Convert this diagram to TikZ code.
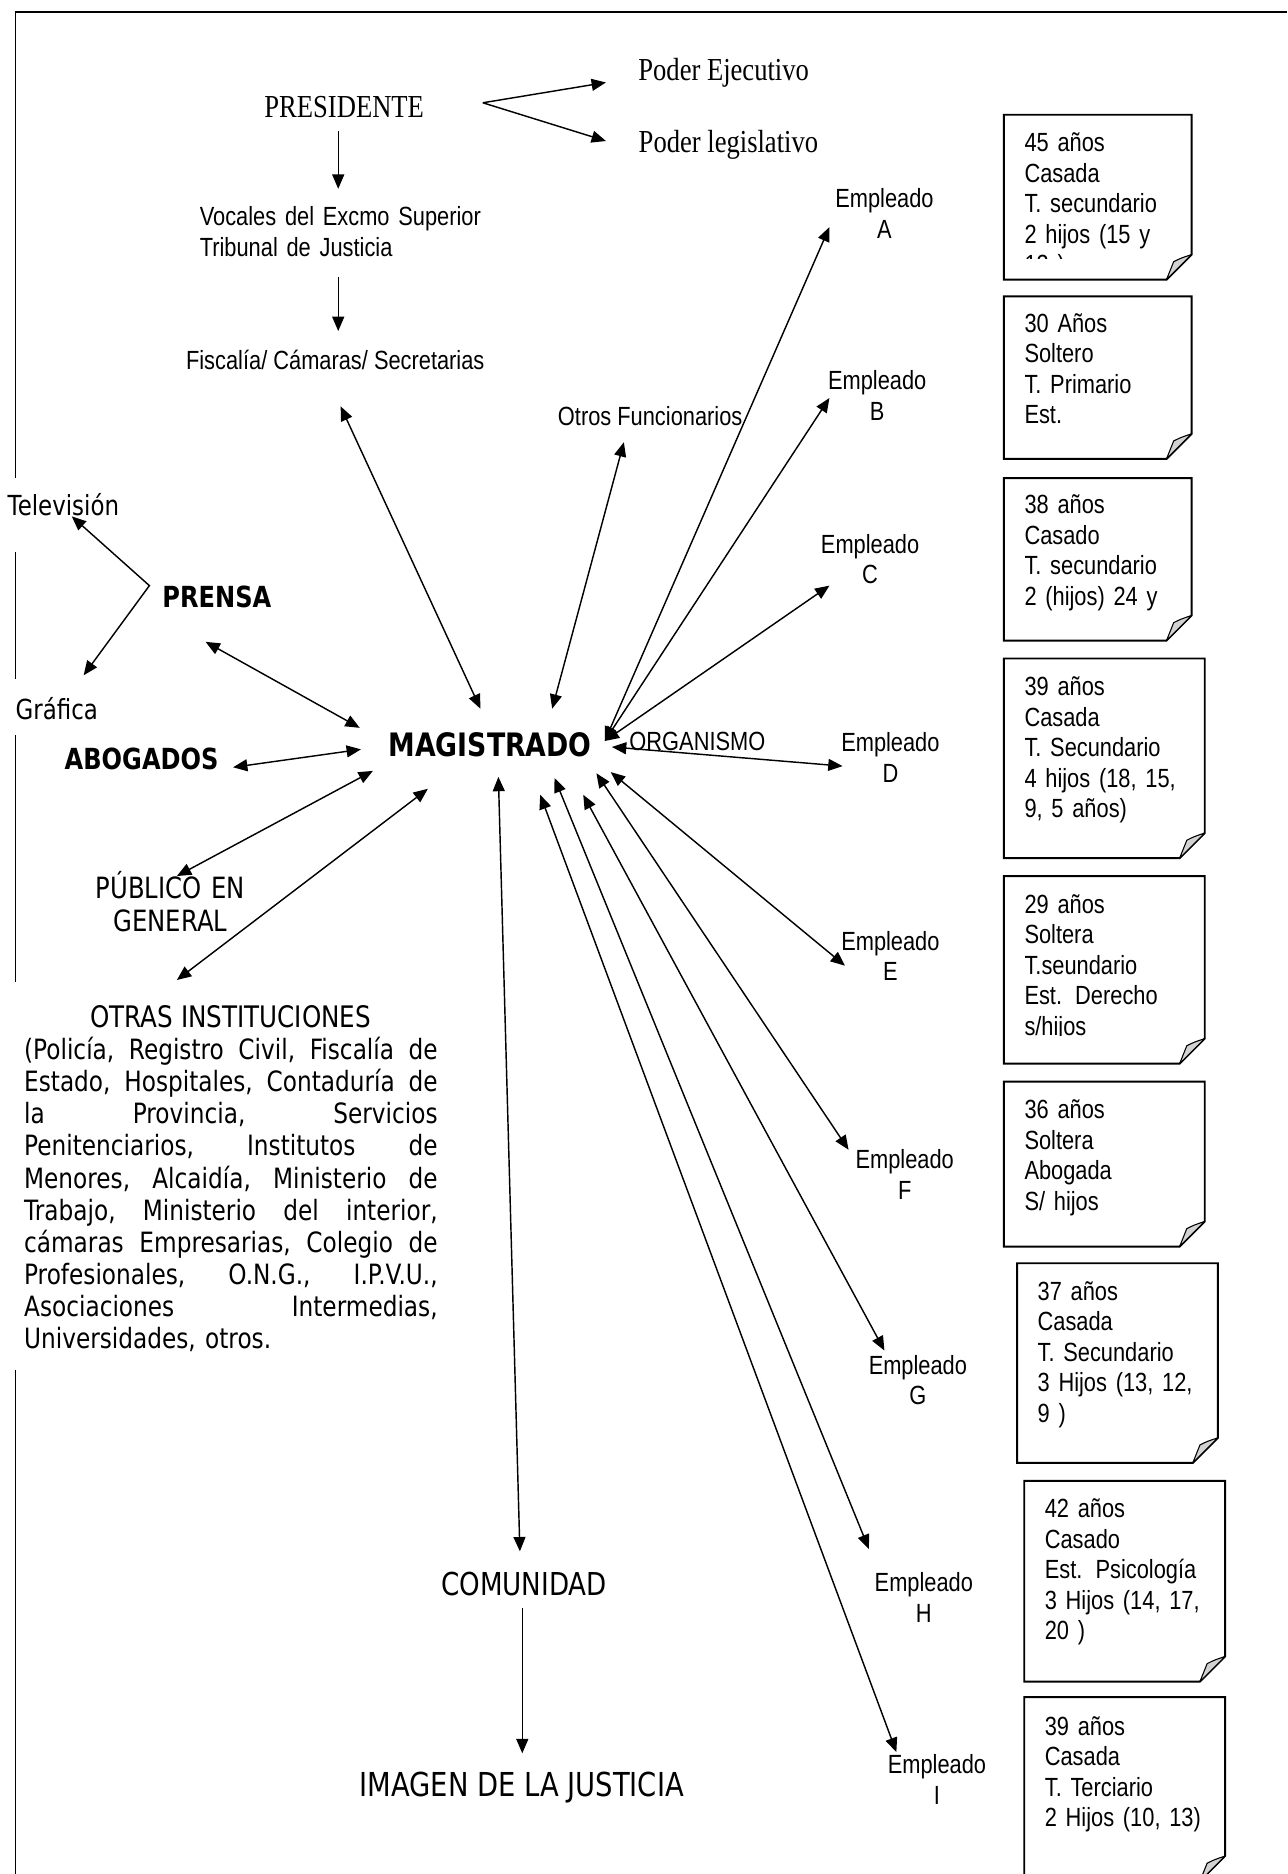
\documentclass[tikz,border=0pt]{standalone}
\usepackage{fontspec}
\usetikzlibrary{arrows.meta}
\newfontfamily\tms[FakeStretch=0.83]{Liberation Serif}
\newfontfamily\arl[FakeStretch=0.83]{Liberation Sans}
\newfontfamily\thm[FakeStretch=0.83]{DejaVu Sans}
\newcommand\nbox[5]{%
  \draw[line width=1.6pt,fill=white,line join=miter] (#1,#2) -- (#3,#2) -- (#3,#4-21) -- (#3-21,#4) -- (#1,#4) -- cycle;
  \filldraw[line width=0.9pt,fill=gray!35,line join=round] (#3-21,#4) -- (#3-15,#4-15) .. controls (#3-9,#4-18) .. (#3,#4-21) -- cycle;
  \coordinate (#5) at (#1,#2);
}
\newcommand\jline[1]{\leavevmode\hbox to 346pt{#1}}
\begin{document}
\begin{tikzpicture}[x=1pt,y=-1pt,
  tip/.tip={Triangle[length=12pt,width=10pt]},
  arr/.style={line width=1.2pt,-tip},
  darr/.style={line width=1.2pt,tip-tip},
  tm/.style={font=\tms\fontsize{26.8}{31}\selectfont,inner sep=0pt,anchor=base},
  ar/.style={font=\arl\fontsize{22}{25.5}\selectfont,inner sep=0pt,anchor=base},
  emp/.style={ar,text width=110pt,align=center},
  nt/.style={font=\arl\fontsize{22}{25.5}\selectfont,inner sep=0pt,anchor=base west,text width=150pt,align=left},
  vb/.style={font=\thm\bfseries\fontsize{#1}{#1}\selectfont,inner sep=0pt,anchor=base},
  vr/.style={font=\thm\fontsize{#1}{27}\selectfont,inner sep=0pt,anchor=base},
  frame/.style={line width=1.5pt}
]
\useasboundingbox (0,0) rectangle (1077,1568);
% frame
\draw[frame] (13,400) -- (13,10) -- (1077,10);
\draw[frame] (13,462) -- (13,568);
\draw[frame] (13,615) -- (13,822);
\draw[frame] (13,1146) -- (13,1568);

% top hierarchy
\node[tm] (pres) at (288,98) {PRESIDENTE};
\node[tm] (pe) at (605.5,67) {Poder Ejecutivo};
\node[tm] (pl) at (609.5,128) {Poder legislativo};
\node[ar,text width=260pt,align=left,anchor=base west] (voc) at (167,189) {Vocales del Excmo Superior\\Tribunal de Justicia};
\node[ar] (fis) at (280.5,309) {Fiscalía/ Cámaras/ Secretarias};
\node[ar] (otros) at (544,356) {Otros Funcionarios};

\coordinate (fork) at (404,86);
\coordinate (pe-in) at (507,69);
\coordinate (pl-in) at (507,118);
\draw[arr] (fork) -- (pe-in);
\draw[arr] (fork) -- (pl-in);
\coordinate (pres-out) at (283,110);
\coordinate (voc-in) at (283,158);
\coordinate (voc-out) at (283,232);
\coordinate (fis-in) at (283,277);
\draw[arr] (pres-out) -- (voc-in);
\draw[arr] (voc-out) -- (fis-in);

% center
\node[vb=27] (mag) at (410,633) {MAGISTRADO};
\node[ar] (org) at (583.5,628) {ORGANISMO};

% left side
\node[vb=24.3] (prensa) at (181.5,508) {PRENSA};
\node[vb=24.3] (abog) at (118.5,644) {ABOGADOS};
\node[vr=23.1] (tele) at (53,431) {Televisión};
\node[vr=23.1] (graf) at (47.5,602) {Gráfica};
\node[vr=24.5,text width=200pt,align=center] (pub) at (142.5,752) {PÚBLICO EN\\GENERAL};
\node[vr=24.8] (otras) at (193,860) {OTRAS INSTITUCIONES};
\node[font=\thm\fontsize{23.4}{26.9}\selectfont,inner sep=0pt,anchor=base west,text width=346pt,align=left] (para) at (20,886.5) {%
\jline{(Policía,\hfill Registro\hfill Civil,\hfill Fiscalía\hfill de}\\
\jline{Estado,\hfill Hospitales,\hfill Contaduría\hfill de}\\
\jline{la\hfill Provincia,\hfill Servicios}\\
\jline{Penitenciarios,\hfill Institutos\hfill de}\\
\jline{Menores,\hfill Alcaidía,\hfill Ministerio\hfill de}\\
\jline{Trabajo,\hfill Ministerio\hfill del\hfill interior,}\\
\jline{cámaras\hfill Empresarias,\hfill Colegio\hfill de}\\
\jline{Profesionales,\hfill O.N.G.,\hfill I.P.V.U.,}\\
\jline{Asociaciones\hfill Intermedias,}\\
Universidades, otros.};

\coordinate (pfork) at (125,490);
\coordinate (tele-in) at (60,432);
\coordinate (graf-in) at (70,565);
\draw[line width=1.2pt,tip-tip] (tele-in) -- (pfork) -- (graf-in);

% bottom
\node[vr=26.4] (com) at (438.5,1335) {COMUNIDAD};
\node[vr=27.6] (img) at (436.5,1503) {IMAGEN DE LA JUSTICIA};
\coordinate (com-out) at (437,1345);
\coordinate (img-in) at (437,1467);
\draw[arr] (com-out) -- (img-in);

% employees
\node[emp] (eA) at (740,174) {Empleado\\A};
\node[emp] (eB) at (734,326) {Empleado\\B};
\node[emp] (eC) at (728,463) {Empleado\\C};
\node[emp] (eD) at (745,629) {Empleado\\D};
\node[emp] (eE) at (745,795) {Empleado\\E};
\node[emp] (eF) at (757,978) {Empleado\\F};
\node[emp] (eG) at (768,1150) {Empleado\\G};
\node[emp] (eH) at (773,1332) {Empleado\\H};
\node[emp] (eI) at (784,1484) {Empleado\\I};

% connector end points at MAGISTRADO
\coordinate (m-fis) at (402,593);
\coordinate (m-otros) at (462,593);
\coordinate (m-hub) at (506,620);
\coordinate (m-D) at (512,625);
\coordinate (m-E) at (511,646);
\coordinate (m-F) at (499,647);
\coordinate (m-G) at (488,665);
\coordinate (m-H) at (464,651);
\coordinate (m-I) at (452,665);
\coordinate (m-com) at (417,650);
\coordinate (m-prensa) at (301,609);
\coordinate (m-abog) at (302,627);
\coordinate (m-pub) at (312,645);
\coordinate (m-otras) at (358,660);
% far ends
\coordinate (fis-out) at (285,340);
\coordinate (otros-out) at (522,370);
\coordinate (eA-in) at (694,190);
\coordinate (eB-in) at (694,333);
\coordinate (eC-in) at (694,490);
\coordinate (eD-in) at (705,641);
\coordinate (eE-in) at (707,808);
\coordinate (eF-in) at (710,962);
\coordinate (eG-in) at (740,1130);
\coordinate (eH-in) at (727,1296);
\coordinate (eI-in) at (750,1466);
\coordinate (com-in) at (435,1298);
\coordinate (prensa-out) at (172,537);
\coordinate (abog-out) at (195,642);
\coordinate (pub-out) at (148,733);
\coordinate (otras-out) at (148,820);

\draw[darr] (fis-out) -- (m-fis);
\draw[darr] (otros-out) -- (m-otros);
\draw[darr] (m-hub) -- (eA-in);
\draw[darr] (m-hub) -- (eB-in);
\draw[darr] (m-hub) -- (eC-in);
\draw[darr] (m-D) -- (eD-in);
\draw[darr] (m-E) -- (eE-in);
\draw[darr] (m-F) -- (eF-in);
\draw[darr] (m-G) -- (eG-in);
\draw[darr] (m-H) -- (eH-in);
\draw[darr] (m-I) -- (eI-in);
\draw[darr] (m-com) -- (com-in);
\draw[darr] (prensa-out) -- (m-prensa);
\draw[darr] (abog-out) -- (m-abog);
\draw[darr] (pub-out) -- (m-pub);
\draw[darr] (otras-out) -- (m-otras);

% notes
\nbox{840}{96}{997}{234}{n1}
\begin{scope}
\clip (840,96) rectangle (997,216);
\node[nt] (t1) at (857,127) {45 años\\Casada\\T. secundario\\2 hijos (15 y\\13 )};
\end{scope}
\nbox{840}{248}{997}{384}{n2}
\node[nt] (t2) at (857,278) {30 Años\\Soltero\\T. Primario\\Est.};
\nbox{840}{400}{997}{536}{n3}
\node[nt] (t3) at (857,430) {38 años\\Casado\\T. secundario\\2 (hijos) 24 y};
\nbox{840}{551}{1008}{718}{n4}
\node[nt] (t4) at (857,582) {39 años\\Casada\\T. Secundario\\4 hijos (18, 15,\\9, 5 años)};
\nbox{840}{733}{1008}{890}{n5}
\begin{scope}
\clip (840,733) rectangle (1008,866);
\node[nt] (t5) at (857,764) {29 años\\Soltera\\T.seundario\\Est. Derecho\\s/hijos};
\end{scope}
\nbox{840}{905}{1008}{1043}{n6}
\node[nt] (t6) at (857,936) {36 años\\Soltera\\Abogada\\S/ hijos};
\nbox{851}{1057}{1019}{1224}{n7}
\node[nt] (t7) at (868,1088) {37 años\\Casada\\T. Secundario\\3 Hijos (13, 12,\\9 )};
\nbox{857}{1239}{1025}{1407}{n8}
\node[nt] (t8) at (874,1270) {42 años\\Casado\\Est. Psicología\\3 Hijos (14, 17,\\20 )};
\nbox{857}{1420}{1025}{1574}{n9}
\node[nt] (t9) at (874,1452) {39 años\\Casada\\T. Terciario\\2 Hijos (10, 13)};
\end{tikzpicture}
\end{document}
